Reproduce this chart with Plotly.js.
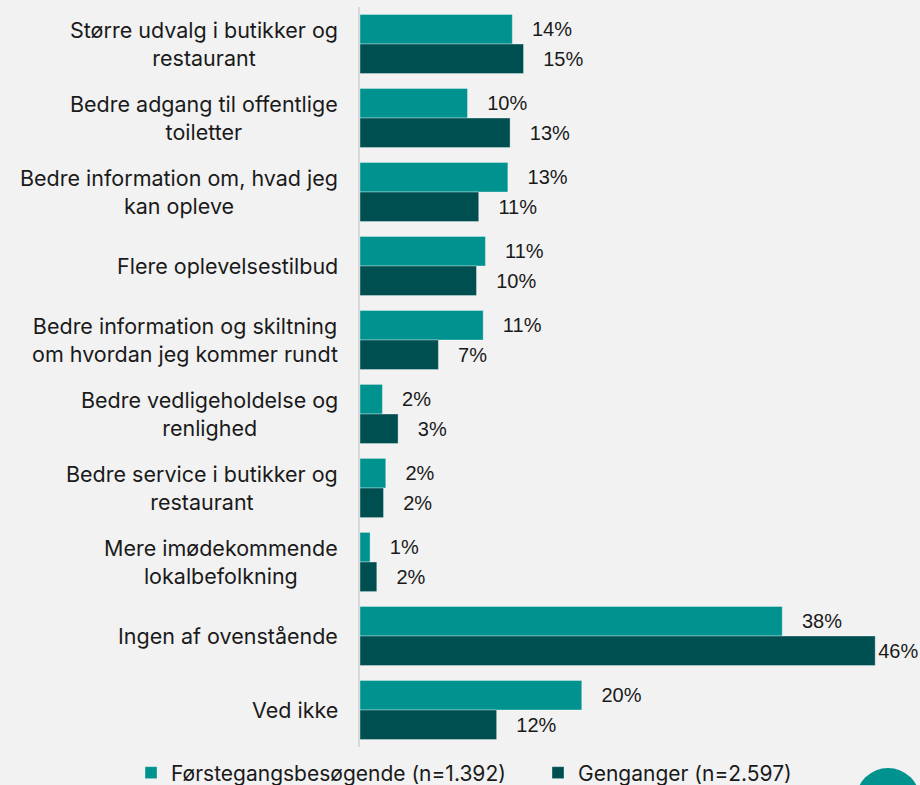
<!DOCTYPE html>
<html>
<head>
<meta charset="utf-8">
<script src="https://cdn.plot.ly/plotly-3.0.1.min.js"></script>
<style>html,body{margin:0;padding:0;background:#f2f2f2;}#chart{width:920px;height:785px;}</style>
</head>
<body>
<div id="chart"></div>
<script>
const categories = [
  "Større udvalg i butikker og<br>restaurant",
  "Bedre adgang til offentlige<br>toiletter",
  "Bedre information om, hvad jeg<br>kan opleve",
  "Flere oplevelsestilbud",
  "Bedre information og skiltning<br>om hvordan jeg kommer rundt",
  "Bedre vedligeholdelse og<br>renlighed",
  "Bedre service i butikker og<br>restaurant",
  "Mere imødekommende<br>lokalbefolkning",
  "Ingen af ovenstående",
  "Ved ikke"
];
const seriesNames = ["Førstegangsbesøgende (n=1.392)", "Genganger (n=2.597)"];
const firstTimers = [13.6, 9.6, 13.2, 11.2, 11.0, 2.0, 2.3, 0.9, 37.7, 19.8];
const returners   = [14.6, 13.4, 10.6, 10.4, 7.0, 3.4, 2.1, 1.5, 46.0, 12.2];

const labelFont = "Inter, Liberation Sans, sans-serif";
const valueFont = "Liberation Sans, Arial, sans-serif";
const pad = '\u00a0\u00a0\u00a0';
function tmpl(vals){ return vals.map(v => v > 44 ? '%{x:.0f}%' : pad + '%{x:.0f}%'); }

const traces = [
  {type:'bar', orientation:'h', name:seriesNames[0], y:categories, x:firstTimers,
   marker:{color:'#00928e', line:{color:'rgba(255,255,255,0.35)', width:1}},
   texttemplate:tmpl(firstTimers), textposition:'outside', cliponaxis:false,
   textfont:{family:valueFont, size:20, color:'#1a1a1a'}, hoverinfo:'skip'},
  {type:'bar', orientation:'h', name:seriesNames[1], y:categories, x:returners,
   marker:{color:'#004f50', line:{color:'rgba(255,255,255,0.35)', width:1}},
   texttemplate:tmpl(returners), textposition:'outside', cliponaxis:false,
   textfont:{family:valueFont, size:20, color:'#1a1a1a'}, hoverinfo:'skip'}
];

const annotations = categories.map(c => ({
  xref:'paper', yref:'y', x:(340-360)/560, y:c, text:c, showarrow:false,
  xanchor:'right', yanchor:'middle', align:'center',
  font:{family:labelFont, size:21.5, color:'#1a1a1a'}
}));

const layout = {
  width:920, height:785,
  paper_bgcolor:'#f2f2f2', plot_bgcolor:'#f2f2f2',
  margin:{l:360, r:0, t:7, b:38, autoexpand:false},
  barmode:'group', bargap:0.2, bargroupgap:0,
  font:{family:labelFont, size:20, color:'#1a1a1a'},
  xaxis:{range:[0,50], visible:false, fixedrange:true},
  yaxis:{autorange:'reversed', showline:true, linecolor:'#d9d9d9', linewidth:2,
         ticks:'', showgrid:false, zeroline:false, showticklabels:false},
  showlegend:true,
  legend:{orientation:'h', x:(131-360)/560, xanchor:'left', y:(747-773)/740, yanchor:'middle',
          entrywidth:362, entrywidthmode:'pixels',
          font:{family:labelFont, size:21, color:'#1a1a1a'}, bgcolor:'rgba(0,0,0,0)'},
  annotations:annotations,
  shapes:[{type:'circle', xref:'paper', yref:'paper',
           x0:(856-360)/560, x1:(920-360)/560, y0:(747-832)/740, y1:(747-768)/740,
           fillcolor:'#00928e', line:{width:0}}]
};
Plotly.newPlot('chart', traces, layout, {displayModeBar:false, staticPlot:true});
</script>
</body>
</html>
